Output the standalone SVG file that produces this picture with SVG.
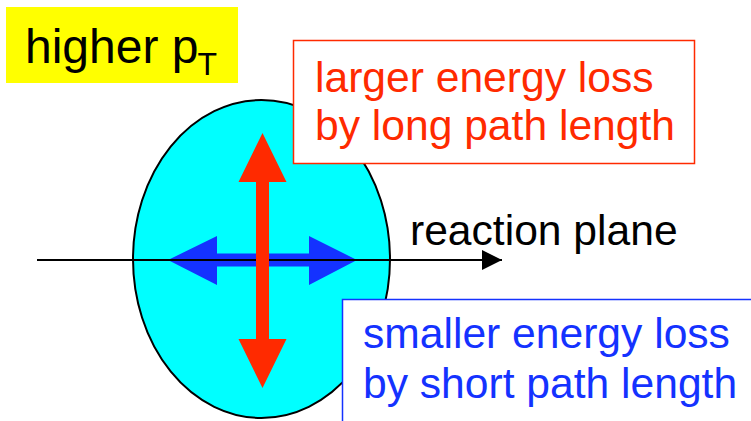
<svg xmlns="http://www.w3.org/2000/svg" width="751" height="421" viewBox="0 0 751 421">
<style>
text{font-family:"Liberation Sans",Arial,sans-serif;font-size:42.6px}
text.big{font-size:48px}
.red{fill:#ff2a00}
.blue{fill:#1432ff}
</style>
<defs>
<marker id="ah" markerWidth="20" markerHeight="20" refX="20" refY="10" orient="auto" markerUnits="userSpaceOnUse">
<path d="M0,0 L20,10 L0,20 Z" fill="#000"/>
</marker>
</defs>
<rect width="751" height="421" fill="#fff"/>
<g id="label-higher-pt">
<rect x="6" y="7" width="232" height="76" fill="#ffff00"/>
<text class="big" x="25" y="62.5">higher p<tspan style="font-size:32px" dy="12.5" dx="-1">T</tspan></text>
</g>
<g id="ellipse">
<ellipse cx="261.5" cy="259" rx="128.5" ry="159" fill="#00ffff" stroke="#000" stroke-width="2"/>
</g>
<g id="connectors">
<line x1="37" y1="260" x2="502" y2="260" stroke="#000" stroke-width="2" marker-end="url(#ah)"/>
<path d="M168,260 L217,236 L217,253.5 L309,253.5 L309,236 L357,260 L309,285 L309,266.5 L217,266.5 L217,285 Z" fill="#1432ff"/>
<line x1="37" y1="260" x2="390" y2="260" stroke="#000" stroke-width="2"/>
<path d="M262.5,133 L286.5,182 L269,182 L269,339 L286.5,339 L262.5,388 L238.5,339 L256,339 L256,182 L238.5,182 Z" fill="#ff2a00"/>
</g>
<g id="label-reaction-plane">
<text x="410" y="245">reaction plane</text>
</g>
<g id="label-larger">
<rect x="293.5" y="40.5" width="401" height="123" fill="#fff" stroke="#ff2a00" stroke-width="1.5"/>
<text class="red" x="315" y="92">larger energy loss</text>
<text class="red" x="315" y="140">by long path length</text>
</g>
<g id="label-smaller">
<rect x="342.5" y="299.5" width="420" height="130" fill="#fff" stroke="#1432ff" stroke-width="1.5"/>
<text class="blue" x="363" y="348">smaller energy loss</text>
<text class="blue" x="363" y="398">by short path length</text>
</g>
</svg>
